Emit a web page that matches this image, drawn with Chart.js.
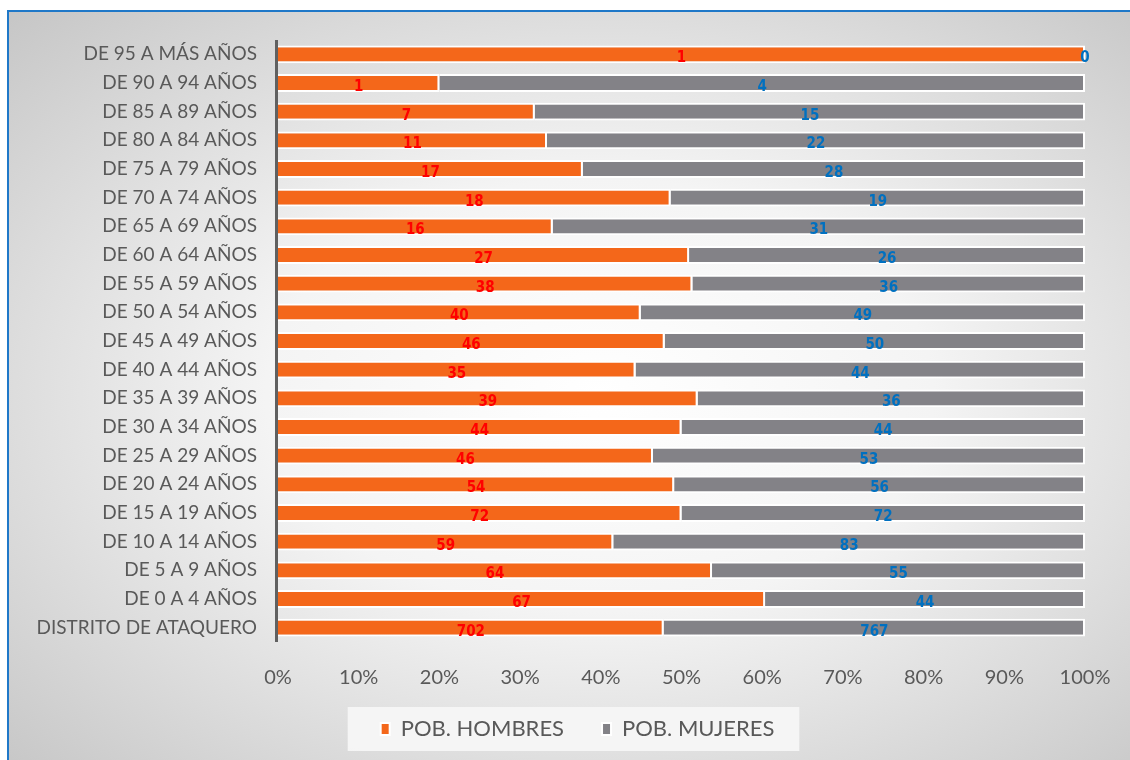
<!DOCTYPE html>
<html>
<head>
<meta charset="utf-8">
<title>Población por grupos de edad - Distrito de Ataquero</title>
<script src="https://cdn.jsdelivr.net/npm/chart.js@4.4.0/dist/chart.umd.min.js"></script>
<style>
    html, body {
        margin: 0;
        padding: 0;
        width: 1130px;
        height: 760px;
        overflow: hidden;
        background: #ffffff;
    }
    #frame {
        position: absolute;
        left: 7px;
        top: 10px;
        width: 1140px;
        height: 770px;
        box-sizing: border-box;
        border: 2px solid #1f78c8;
        background: radial-gradient(farthest-corner at 52% 50%, #ffffff 0%, #f4f4f4 40%, #c6c6c6 100%);
    }
    #wrap {
        position: absolute;
        left: 0;
        top: 0;
        width: 1130px;
        height: 760px;
    }
</style>
</head>
<body>
<div id="frame"></div>
<div id="wrap"><canvas id="edadChart"></canvas></div>

<script>
// Grupos de edad (de arriba hacia abajo)
const categorias = [
    'DE 95 A MÁS AÑOS', 'DE 90 A 94 AÑOS', 'DE 85 A 89 AÑOS', 'DE 80 A 84 AÑOS',
    'DE 75 A 79 AÑOS', 'DE 70 A 74 AÑOS', 'DE 65 A 69 AÑOS', 'DE 60 A 64 AÑOS',
    'DE 55 A 59 AÑOS', 'DE 50 A 54 AÑOS', 'DE 45 A 49 AÑOS', 'DE 40 A 44 AÑOS',
    'DE 35 A 39 AÑOS', 'DE 30 A 34 AÑOS', 'DE 25 A 29 AÑOS', 'DE 20 A 24 AÑOS',
    'DE 15 A 19 AÑOS', 'DE 10 A 14 AÑOS', 'DE 5 A 9 AÑOS', 'DE 0 A 4 AÑOS',
    'DISTRITO DE ATAQUERO'
];

const hombres = [1, 1, 7, 11, 17, 18, 16, 27, 38, 40, 46, 35, 39, 44, 46, 54, 72, 59, 64, 67, 702];
const mujeres = [0, 4, 15, 22, 28, 19, 31, 26, 36, 49, 50, 44, 36, 44, 53, 56, 72, 83, 55, 44, 767];

const ticksPorcentaje = [0, 10, 20, 30, 40, 50, 60, 70, 80, 90, 100];

// Barras apiladas al 100%
const totales = hombres.map((h, i) => h + mujeres[i]);
const pctHombres = hombres.map((h, i) => totales[i] ? h / totales[i] * 100 : 0);
const pctMujeres = mujeres.map((m, i) => totales[i] ? m / totales[i] * 100 : 0);

const FONT = 'Lato, "Open Sans", sans-serif';
const labelColors = ['#ff0000', '#0070c0'];

// Etiquetas con los valores absolutos en el centro de cada tramo
const valueLabels = {
    id: 'valueLabels',
    afterDatasetsDraw(chart) {
        const ctx = chart.ctx;
        const area = chart.chartArea;
        ctx.save();
        // eje vertical por encima de los bordes blancos de las barras
        ctx.strokeStyle = '#606060';
        ctx.lineWidth = 3;
        ctx.beginPath();
        ctx.moveTo(area.left - 1.5, area.top);
        ctx.lineTo(area.left - 1.5, area.bottom);
        ctx.stroke();

        ctx.font = 'bold 15px "Liberation Sans Narrow", "DejaVu Sans Condensed", sans-serif';
        ctx.textAlign = 'center';
        ctx.textBaseline = 'middle';
        chart.data.datasets.forEach((ds, di) => {
            const meta = chart.getDatasetMeta(di);
            meta.data.forEach((bar, i) => {
                const cx = (bar.x + bar.base) / 2;
                ctx.fillStyle = labelColors[di];
                ctx.fillText(String(ds.counts[i]), cx, bar.y + 4);
            });
        });
        ctx.restore();
    }
};

// Leyenda algo desplazada (derecha / arriba), con fondo claro
const legendBox = {
    id: 'legendBox',
    afterLayout(chart) {
        const lg = chart.legend;
        if (!lg) return;
        lg.left += 25;
        lg.right += 25;
        lg.top -= 10;
        lg.bottom -= 10;
    },
    beforeDraw(chart) {
        const lg = chart.legend;
        if (!lg || !lg.legendHitBoxes || !lg.legendHitBoxes.length) return;
        const boxes = lg.legendHitBoxes;
        const left = Math.min(...boxes.map(b => b.left)) - 33;
        const right = Math.max(...boxes.map(b => b.left + b.width)) + 25;
        const top = Math.min(...boxes.map(b => b.top));
        const bottom = Math.max(...boxes.map(b => b.top + b.height));
        const mid = (top + bottom) / 2;
        const ctx = chart.ctx;
        ctx.save();
        ctx.fillStyle = 'rgba(246, 246, 246, 0.95)';
        ctx.fillRect(left, mid - 22, right - left, 44);
        ctx.restore();
    }
};

const ctx = document.getElementById('edadChart').getContext('2d');
new Chart(ctx, {
    type: 'bar',
    data: {
        labels: categorias,
        datasets: [{
            label: 'POB. HOMBRES',
            data: pctHombres,
            counts: hombres,
            backgroundColor: '#f4671a',
            borderColor: '#ffffff',
            borderWidth: 2,
            barPercentage: 0.62,
            categoryPercentage: 1
        }, {
            label: 'POB. MUJERES',
            data: pctMujeres,
            counts: mujeres,
            backgroundColor: '#838287',
            borderColor: '#ffffff',
            borderWidth: 2,
            barPercentage: 0.62,
            categoryPercentage: 1
        }]
    },
    options: {
        indexAxis: 'y',
        responsive: true,
        maintainAspectRatio: false,
        animation: false,
        layout: {
            padding: { left: 20, right: 45, top: 40, bottom: 0 }
        },
        plugins: {
            legend: {
                position: 'bottom',
                labels: {
                    color: '#595959',
                    font: { family: FONT, size: 22 },
                    boxWidth: 9,
                    boxHeight: 12,
                    padding: 38
                }
            },
            tooltip: { enabled: false }
        },
        scales: {
            x: {
                stacked: true,
                min: 0,
                max: 100,
                grid: { display: false, drawTicks: false },
                border: { display: false },
                afterBuildTicks(scale) {
                    scale.ticks = ticksPorcentaje.map(v => ({ value: v }));
                },
                afterFit(scale) {
                    scale.height = 48;
                    scale.paddingLeft = 0;
                    scale.paddingRight = 0;
                },
                ticks: {
                    color: '#595959',
                    font: { family: FONT, size: 20 },
                    padding: 24,
                    maxRotation: 0,
                    callback: v => v + '%'
                }
            },
            y: {
                stacked: true,
                grid: { display: false, drawTicks: false },
                border: { display: false },
                afterFit(scale) {
                    scale.width = 258;
                },
                ticks: {
                    color: '#595959',
                    font: { family: FONT, size: 19 },
                    padding: 21,
                    autoSkip: false
                }
            }
        }
    },
    plugins: [legendBox, valueLabels]
});
</script>
</body>
</html>
